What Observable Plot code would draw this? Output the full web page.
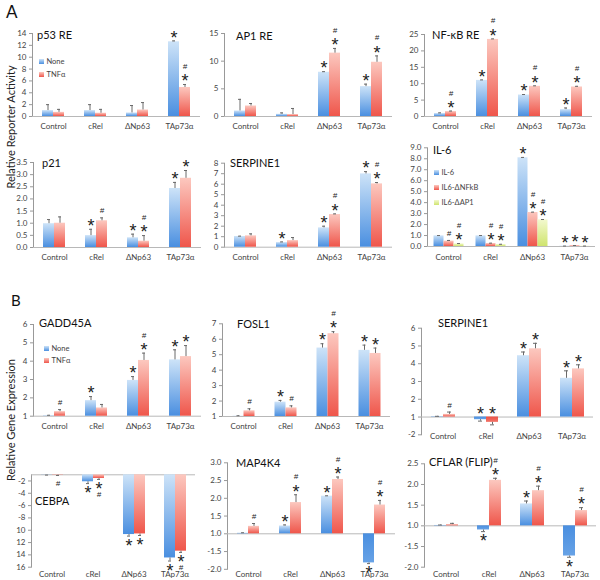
<!DOCTYPE html>
<html><head><meta charset="utf-8">
<script src="https://cdn.jsdelivr.net/npm/d3@7"></script>
<script src="https://cdn.jsdelivr.net/npm/@observablehq/plot@0.6"></script>
<style>
html,body{margin:0;padding:0;background:#fff}
#fig{position:relative;width:600px;height:580px;overflow:hidden;font-family:Lato,"Open Sans",sans-serif;color:#222}
#fig svg.panel{position:absolute;left:0;top:0;overflow:visible}
.t{position:absolute;white-space:nowrap;line-height:14px;font-size:11px;color:#111}
.lg{position:absolute;white-space:nowrap;font-size:7.5px;line-height:10px;color:#444}
.lg i{display:inline-block;width:5px;height:5px;margin-right:3px;vertical-align:middle;position:relative;top:-1px}
.yt{position:absolute;white-space:nowrap;font-size:11px;color:#222;transform:translate(-50%,-50%) rotate(-90deg)}
.big{position:absolute;line-height:20px;color:#111}
</style></head><body><div id="fig">
<svg width="0" height="0" style="position:absolute;left:0;top:0"><defs>
<linearGradient id="gNone" x1="0" y1="0" x2="0" y2="1"><stop offset="0" stop-color="#cde3f8"/><stop offset="1" stop-color="#4a8fe0"/></linearGradient>
<linearGradient id="gTnf" x1="0" y1="0" x2="0" y2="1"><stop offset="0" stop-color="#fcc8bf"/><stop offset="1" stop-color="#ef564b"/></linearGradient>
<linearGradient id="gAp1" x1="0" y1="0" x2="0" y2="1"><stop offset="0" stop-color="#f3f9cf"/><stop offset="1" stop-color="#cfe46e"/></linearGradient>
<linearGradient id="gNoneNeg" x1="0" y1="0" x2="0" y2="1"><stop offset="0" stop-color="#4a8fe0"/><stop offset="1" stop-color="#67a2e6"/></linearGradient>
<linearGradient id="gTnfNeg" x1="0" y1="0" x2="0" y2="1"><stop offset="0" stop-color="#ec5246"/><stop offset="1" stop-color="#f27368"/></linearGradient>
</defs></svg>
</div>
<script>
// ---------- data ----------
const categories = ["Control", "cRel", "ΔNp63", "TAp73α"];
const treatments = ["None", "TNFα"];
const il6Series = ["IL-6", "IL6-ΔNFkB", "IL6-ΔAP1"];
const panelTitles = ["p53 RE", "AP1 RE", "NF-κB RE", "p21", "SERPINE1", "IL-6",
                     "GADD45A", "FOSL1", "SERPINE1", "CEBPA", "MAP4K4", "CFLAR (FLIP)"];

// A: reporter activity
const p53None = [1.0, 1.0, 0.6, 12.6];
const p53NoneErr = [1.0, 1.0, 1.25, 0.15];
const p53NoneSig = ["", "", "", "*"];
const p53Tnf = [0.7, 0.55, 1.1, 4.9];
const p53TnfErr = [0.5, 0.65, 1.25, 0.5];
const p53TnfSig = ["", "", "", "#*"];
const p53Ticks = [0, 2, 4, 6, 8, 10, 12, 14];
const p53TickLabels = ["0", "2", "4", "6", "8", "10", "12", "14"];

const ap1None = [1.0, 0.4, 8.0, 5.4];
const ap1NoneErr = [2.1, 0.25, 0.1, 0.45];
const ap1NoneSig = ["", "", "*", "*"];
const ap1Tnf = [1.9, 0.35, 11.45, 9.8];
const ap1TnfErr = [0.45, 1.1, 0.85, 1.15];
const ap1TnfSig = ["", "", "#*", "#*"];
const ap1Ticks = [0, 5, 10, 15];
const ap1TickLabels = ["0", "5", "10", "15"];

const nfkbNone = [0.9, 11.0, 6.55, 2.1];
const nfkbNoneErr = [0.2, 0.15, 0.15, 0.5];
const nfkbNoneSig = ["", "*", "*", "*"];
const nfkbTnf = [1.5, 23.5, 9.2, 9.0];
const nfkbTnfErr = [0.15, 0.15, 0.15, 0.2];
const nfkbTnfSig = ["#*", "#*", "#*", "#*"];
const nfkbTicks = [0, 5, 10, 15, 20, 25];
const nfkbTickLabels = ["0", "5", "10", "15", "20", "25"];

const p21None = [0.98, 0.49, 0.40, 2.43];
const p21NoneErr = [0.17, 0.26, 0.15, 0.25];
const p21NoneSig = ["", "*", "*", "*"];
const p21Tnf = [1.0, 1.1, 0.26, 2.85];
const p21TnfErr = [0.26, 0.12, 0.23, 0.32];
const p21TnfSig = ["", "#", "#*", "*"];
const p21Ticks = [0, 0.5, 1, 1.5, 2, 2.5, 3, 3.5];
const p21TickLabels = ["0.0", "0.5", "1.0", "1.5", "2.0", "2.5", "3.0", "3.5"];

const serpANone = [1.02, 0.44, 1.84, 6.98];
const serpANoneErr = [0.03, 0.06, 0.16, 0.22];
const serpANoneSig = ["", "*", "*", "*"];
const serpATnf = [1.08, 0.63, 3.11, 6.03];
const serpATnfErr = [0.19, 0.29, 0.06, 0.13];
const serpATnfSig = ["", "", "#*", "#*"];
const serpATicks = [0, 1, 2, 3, 4, 5, 6, 7, 8];
const serpATickLabels = ["0", "1", "2", "3", "4", "5", "6", "7", "8"];

const il6Wt = [0.97, 0.97, 8.09, 0.03];
const il6WtErr = [0.03, 0.03, 0.03, 0.01];
const il6WtSig = ["", "", "*", "*"];
const il6Nfkb = [0.49, 0.27, 3.1, 0.07];
const il6NfkbErr = [0.06, 0.03, 0.03, 0.02];
const il6NfkbSig = ["#", "#*", "#*", "*"];
const il6Ap1 = [0.24, 0.18, 2.43, 0.03];
const il6Ap1Err = [0.03, 0.02, 0.03, 0.01];
const il6Ap1Sig = ["#*", "#*", "#*", "*"];
const il6Ticks = [0, 1, 2, 3, 4, 5, 6, 7, 8, 9];
const il6TickLabels = ["0.0", "1.0", "2.0", "3.0", "4.0", "5.0", "6.0", "7.0", "8.0", "9.0"];

// B: relative gene expression (fold change; values below 1 shown as negative folds)
const gaddNone = [1.02, 1.85, 2.95, 4.07];
const gaddNoneErr = [0.03, 0.22, 0.21, 0.55];
const gaddNoneSig = ["", "*", "*", "*"];
const gaddTnf = [1.25, 1.45, 4.04, 4.25];
const gaddTnfErr = [0.11, 0.19, 0.4, 0.6];
const gaddTnfSig = ["#", "", "#*", "*"];
const gaddTicks = [1, 2, 3, 4, 5, 6];
const gaddTickLabels = ["1", "2", "3", "4", "5", "6"];

const foslNone = [1.02, 1.93, 5.43, 5.28];
const foslNoneErr = [0.03, 0.11, 0.28, 0.34];
const foslNoneSig = ["", "*", "*", "*"];
const foslTnf = [1.37, 1.56, 6.36, 5.08];
const foslTnfErr = [0.13, 0.13, 0.13, 0.35];
const foslTnfSig = ["#", "#", "#*", "*"];
const foslTicks = [1, 2, 3, 4, 5, 6, 7];
const foslTickLabels = ["1", "2", "3", "4", "5", "6", "7"];

const serpBNone = [1.02, -1.15, 4.45, 3.18];
const serpBNoneErr = [0.02, 0.08, 0.21, 0.42];
const serpBNoneSig = ["", "*", "*", "*"];
const serpBTnf = [1.15, -1.3, 4.84, 3.71];
const serpBTnfErr = [0.13, 0.14, 0.31, 0.23];
const serpBTnfSig = ["#", "*", "*", "*"];
const serpBTicks = [6, 5, 4, 3, 2, 1, -2];
const serpBTickLabels = ["6", "5", "4", "3", "2", "1", "-2"];

const cebpaNone = [-1.02, -2.13, -10.7, -14.5];
const cebpaNoneErr = [0.03, 0.3, 0.25, 0.5];
const cebpaNoneSig = ["", "*", "*", "*"];
const cebpaTnf = [-1.06, -1.6, -10.6, -13.4];
const cebpaTnfErr = [0.05, 0.15, 0.25, 0.2];
const cebpaTnfSig = ["#", "*#", "*", "*#"];
const cebpaTicks = [-2, -4, -6, -8, -10, -12, -14, -16];
const cebpaTickLabels = ["-2", "-4", "-6", "-8", "10", "12", "14", "16"];

const mapNone = [1.02, 1.22, 2.06, -1.82];
const mapNoneErr = [0.01, 0.03, 0.01, 0.02];
const mapNoneSig = ["", "*", "*", "*"];
const mapTnf = [1.21, 1.88, 2.53, 1.81];
const mapTnfErr = [0.08, 0.22, 0.07, 0.13];
const mapTnfSig = ["#", "#*", "#*", "#*"];
const mapTicks = [3, 2.5, 2, 1.5, 1, -1.5, -2];
const mapTickLabels = ["3.0", "2.5", "2.0", "1.5", "1.0", "-1.5", "-2.0"];

const cflarNone = [1.01, -1.1, 1.53, -1.73];
const cflarNoneErr = [0.01, 0.04, 0.07, 0.03];
const cflarNoneSig = ["", "*", "*", "*"];
const cflarTnf = [1.03, 2.1, 1.85, 1.37];
const cflarTnfErr = [0.03, 0.05, 0.11, 0.07];
const cflarTnfSig = ["", "#*", "#*", "#*"];
const cflarTicks = [2.5, 2, 1.5, 1, -1.5, -2];
const cflarTickLabels = ["2.5", "2.0", "1.5", "1.0", "-1.5", "-2.0"];

// ---------- layout (pixels) ----------
const fillFor = {
  "None": "url(#gNone)", "None-": "url(#gNoneNeg)",
  "TNFα": "url(#gTnf)", "TNFα-": "url(#gTnfNeg)",
  "IL-6": "url(#gNone)", "IL6-ΔNFkB": "url(#gTnf)", "IL6-ΔAP1": "url(#gAp1)"
};
const two = (a, ae, as, b, be, bs) => [
  {name: treatments[0], values: a, errors: ae, sigs: as},
  {name: treatments[1], values: b, errors: be, sigs: bs}
];
const panels = [
  {series: two(p53None, p53NoneErr, p53NoneSig, p53Tnf, p53TnfErr, p53TnfSig), ticks: p53Ticks, labels: p53TickLabels,
   domain: [0, 14], x0: 31, x1: 201, yTop: 33, yBot: 116, pad: 7, tx: 37, ty: 35},
  {series: two(ap1None, ap1NoneErr, ap1NoneSig, ap1Tnf, ap1TnfErr, ap1TnfSig), ticks: ap1Ticks, labels: ap1TickLabels,
   domain: [0, 15], x0: 222, x1: 393, yTop: 33, yBot: 116, pad: 7, tx: 236, ty: 36},
  {series: two(nfkbNone, nfkbNoneErr, nfkbNoneSig, nfkbTnf, nfkbTnfErr, nfkbTnfSig), ticks: nfkbTicks, labels: nfkbTickLabels,
   domain: [0, 25], x0: 422, x1: 593, yTop: 34, yBot: 116, pad: 7, tx: 432, ty: 35},
  {series: two(p21None, p21NoneErr, p21NoneSig, p21Tnf, p21TnfErr, p21TnfSig), ticks: p21Ticks, labels: p21TickLabels,
   domain: [0, 3.5], x0: 31, x1: 202, yTop: 162, yBot: 247, pad: 7, tx: 42, ty: 163},
  {series: two(serpANone, serpANoneErr, serpANoneSig, serpATnf, serpATnfErr, serpATnfSig), ticks: serpATicks, labels: serpATickLabels,
   domain: [0, 8], x0: 222, x1: 393, yTop: 162.7, yBot: 246.7, pad: 7, tx: 230, ty: 163},
  {series: [
     {name: il6Series[0], values: il6Wt, errors: il6WtErr, sigs: il6WtSig},
     {name: il6Series[1], values: il6Nfkb, errors: il6NfkbErr, sigs: il6NfkbSig},
     {name: il6Series[2], values: il6Ap1, errors: il6Ap1Err, sigs: il6Ap1Sig}],
   ticks: il6Ticks, labels: il6TickLabels,
   domain: [0, 9], x0: 426.5, x1: 594.5, yTop: 147.3, yBot: 246, pad: 8, tx: 433, ty: 150},
  {series: two(gaddNone, gaddNoneErr, gaddNoneSig, gaddTnf, gaddTnfErr, gaddTnfSig), ticks: gaddTicks, labels: gaddTickLabels, fold: true,
   domain: [0, 5], x0: 32, x1: 201, yTop: 324, yBot: 415.7, pad: 7, tx: 39, ty: 323},
  {series: two(foslNone, foslNoneErr, foslNoneSig, foslTnf, foslTnfErr, foslTnfSig), ticks: foslTicks, labels: foslTickLabels, fold: true,
   domain: [0, 6], x0: 220.5, x1: 391.5, yTop: 323.3, yBot: 416, pad: 7, tx: 237, ty: 324},
  {series: two(serpBNone, serpBNoneErr, serpBNoneSig, serpBTnf, serpBTnfErr, serpBTnfSig), ticks: serpBTicks, labels: serpBTickLabels, fold: true, negAbove: true,
   domain: [-1, 5], x0: 420, x1: 593, yTop: 327.7, yBot: 434.3, pad: -1.5, tx: 438, ty: 323},
  {series: two(cebpaNone, cebpaNoneErr, cebpaNoneSig, cebpaTnf, cebpaTnfErr, cebpaTnfSig), ticks: cebpaTicks, labels: cebpaTickLabels, fold: true, negPlain: true,
   domain: [-15, 0], x0: 29, x1: 196, yTop: 474.3, yBot: 566.7, pad: 4.5, tx: 35, ty: 501},
  {series: two(mapNone, mapNoneErr, mapNoneSig, mapTnf, mapTnfErr, mapTnfSig), ticks: mapTicks, labels: mapTickLabels, fold: true,
   domain: [-1, 2], x0: 225, x1: 396, yTop: 462.3, yBot: 568.8, pad: 2.5, tx: 236, ty: 463},
  {series: two(cflarNone, cflarNoneErr, cflarNoneSig, cflarTnf, cflarTnfErr, cflarTnfSig), ticks: cflarTicks, labels: cflarTickLabels, fold: true,
   domain: [-1, 1.5], x0: 424, x1: 596, yTop: 463.3, yBot: 566.7, pad: 4.5, tx: 429, ty: 462}
];

// fold-change display: 1 and -1 both sit on the baseline
const foldPos = v => v >= 1 ? v - 1 : v + 1;

const fig = document.getElementById("fig");
const starFont = "Liberation Sans, Arial, sans-serif";

panels.forEach((p, k) => {
  const f = p.fold ? foldPos : (v => v);
  const base = p.fold ? 1 : 0;
  const names = p.series.map(s => s.name);
  const rows = [];
  p.series.forEach(s => {
    categories.forEach((c, i) => {
      const v = s.values[i], e = s.errors[i];
      const neg = p.fold ? v < 0 : v < base;
      const end = neg ? v - e : v + e;
      const sig = s.sigs[i];
      rows.push({
        cat: c, ser: s.name, d: f(v), e: f(end), neg,
        key: s.name + (neg && !p.negPlain ? "-" : ""),
        star: sig.includes("*"), hash: sig.includes("#"),
        up: !neg || !!p.negAbove,
        a: (neg && p.negAbove) ? 0 : f(end)
      });
    });
  });
  const keys = Array.from(new Set(rows.map(r => r.key)));
  const po = names.length === 3 ? 0.5 : 0.77;
  const capInset = names.length === 3 ? 3.5 : 4;
  const tickPos = p.ticks.map(f);
  const fmt = d => {
    const i = tickPos.findIndex(t => Math.abs(t - d) < 1e-9);
    return i >= 0 ? p.labels[i] : "";
  };
  const common = {fx: "cat", x: "ser"};
  const txt = (filter, dy, text, size, style) => Plot.text(rows.filter(filter), {
    ...common, y: "a", text: () => text, dy, fontSize: size, fontFamily: starFont,
    fill: "#222", fontStyle: style || "normal", textAnchor: "middle"
  });
  const svg = Plot.plot({
    width: 600, height: 580,
    marginLeft: p.x0, marginRight: 600 - p.x1, marginTop: p.yTop, marginBottom: 580 - p.yBot,
    style: {background: "transparent", fontFamily: "Lato, sans-serif", fontSize: "8px", color: "#999", overflow: "visible"},
    fx: {domain: categories, padding: 0, label: null, tickSize: 0, tickPadding: p.pad, axis: "bottom"},
    x: {domain: names, paddingInner: 0, paddingOuter: po, axis: null},
    y: {domain: p.domain, ticks: tickPos, tickFormat: fmt, tickSize: 3, tickPadding: 3, line: true, label: null, nice: false},
    color: {type: "ordinal", domain: keys, range: keys.map(k => fillFor[k])},
    marks: [
      Plot.ruleY([0], {stroke: "#b8b8b8", strokeWidth: 1}),
      Plot.barY(rows, {...common, y1: 0, y2: "d", fill: "key"}),
      Plot.ruleX(rows, {...common, y1: "d", y2: "e", stroke: "#6a6a6a", strokeWidth: 1}),
      Plot.tickY(rows, {...common, y: "e", stroke: "#6a6a6a", strokeWidth: 1, insetLeft: capInset, insetRight: capInset}),
      txt(r => r.star && r.up, -3, "*", 18),
      txt(r => r.star && !r.up, 10, "*", 18),
      txt(r => r.hash && r.star && r.up, -18, "#", 8, "italic"),
      txt(r => r.hash && !r.star && r.up, -7, "#", 8, "italic"),
      txt(r => r.hash && r.star && !r.up, 15, "#", 8, "italic"),
      txt(r => r.hash && !r.star && !r.up, 8, "#", 8, "italic")
    ]
  });
  svg.classList.add("panel");
  d3.select(svg).selectAll('g[aria-label$="tick label"]').attr("fill", "#444");
  fig.appendChild(svg);

  const t = document.createElement("div");
  t.className = "t";
  t.textContent = panelTitles[k];
  t.style.left = p.tx + "px";
  t.style.top = (p.ty - 7) + "px";
  fig.appendChild(t);
});

// legends
function legend(names, keys, x, ys) {
  const g = {gNone: "linear-gradient(#cde3f8,#4a8fe0)", gTnf: "linear-gradient(#fcc8bf,#ef564b)", gAp1: "linear-gradient(#f3f9cf,#cfe46e)"};
  names.forEach((n, i) => {
    const d = document.createElement("div");
    d.className = "lg";
    d.style.left = x + "px";
    d.style.top = (ys[i] - 5) + "px";
    const sw = document.createElement("i");
    sw.style.background = g[keys[i]];
    d.appendChild(sw);
    d.appendChild(document.createTextNode(n));
    fig.appendChild(d);
  });
}
legend(treatments, ["gNone", "gTnf"], 38.5, [62, 75]);
legend(il6Series, ["gNone", "gTnf", "gAp1"], 433.5, [173, 188, 203]);
legend(treatments, ["gNone", "gTnf"], 43.5, [349, 361]);

// section letters and axis titles
function add(cls, text, css) {
  const d = document.createElement("div");
  d.className = cls;
  d.textContent = text;
  Object.assign(d.style, css);
  fig.appendChild(d);
}
add("big", "A", {left: "6px", top: "2px", fontSize: "17px"});
add("big", "B", {left: "11px", top: "290px", fontSize: "15px"});
add("yt", "Relative Reporter Activity", {left: "10px", top: "127px"});
add("yt", "Relative Gene Expression", {left: "10px", top: "420px"});
</script></body></html>
